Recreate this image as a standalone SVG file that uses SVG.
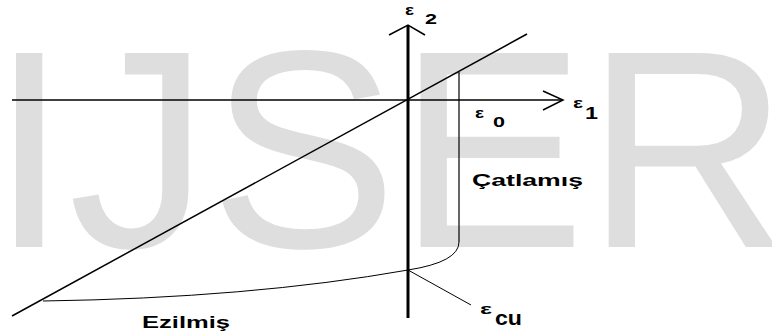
<svg xmlns="http://www.w3.org/2000/svg" width="772" height="332" viewBox="0 0 772 332">
<style>
.wm{font-family:"Liberation Sans",Arial,sans-serif;font-size:282px;fill:#dedede}
.ln{fill:none;stroke:#000;stroke-linecap:butt}
.lb{font-family:"Liberation Sans",Arial,sans-serif;font-weight:bold;fill:#000}
.eps{font-family:"Liberation Sans",Arial,sans-serif;font-weight:bold;fill:#000;font-size:14px}
</style>
<rect width="772" height="332" fill="#fff"/>
<text id="watermark" class="wm" x="-10" y="247">IJSER</text>
<g id="connectors">
  <line class="ln" x1="12" y1="100" x2="562" y2="100" stroke-width="1.5"/>
  <polyline class="ln" points="543,91 563,100 543,110" stroke-width="1.5"/>
  <line class="ln" x1="408" y1="26" x2="408" y2="318" stroke-width="3"/>
  <polyline class="ln" points="389,35 408,25 425,35" stroke-width="1.5"/>
  <line class="ln" x1="12" y1="316" x2="527" y2="34" stroke-width="1.5"/>
  <line class="ln" x1="459" y1="72" x2="459" y2="242" stroke-width="1.2"/>
  <path class="ln" d="M459,242 Q459,262 408,270 Q250,298 43,301" stroke-width="1"/>
  <line class="ln" x1="408" y1="270" x2="471" y2="305" stroke-width="1"/>
</g>
<g id="label-e2">
  <text class="eps" x="405" y="15" textLength="9" lengthAdjust="spacingAndGlyphs">ε</text>
  <text class="lb" x="425" y="24" font-size="14" textLength="12" lengthAdjust="spacingAndGlyphs">2</text>
</g>
<g id="label-e1">
  <text class="eps" x="573" y="108" textLength="10" lengthAdjust="spacingAndGlyphs">ε</text>
  <text class="lb" x="585" y="119" font-size="16" textLength="13" lengthAdjust="spacingAndGlyphs">1</text>
</g>
<g id="label-e0">
  <text class="eps" x="475" y="118" textLength="9" lengthAdjust="spacingAndGlyphs">ε</text>
  <text class="lb" x="493" y="127" font-size="14" textLength="12" lengthAdjust="spacingAndGlyphs">0</text>
</g>
<g id="label-ecu">
  <text class="eps" x="480" y="314" textLength="12" lengthAdjust="spacingAndGlyphs">ε</text>
  <text class="lb" x="495" y="325" font-size="20" textLength="27" lengthAdjust="spacingAndGlyphs">cu</text>
</g>
<g id="label-catlamis">
  <text class="lb" x="472" y="186" font-size="17" textLength="111" lengthAdjust="spacingAndGlyphs">Çatlamış</text>
</g>
<g id="label-ezilmis">
  <text class="lb" x="142" y="328" font-size="17" textLength="88" lengthAdjust="spacingAndGlyphs">Ezilmiş</text>
</g>
</svg>
